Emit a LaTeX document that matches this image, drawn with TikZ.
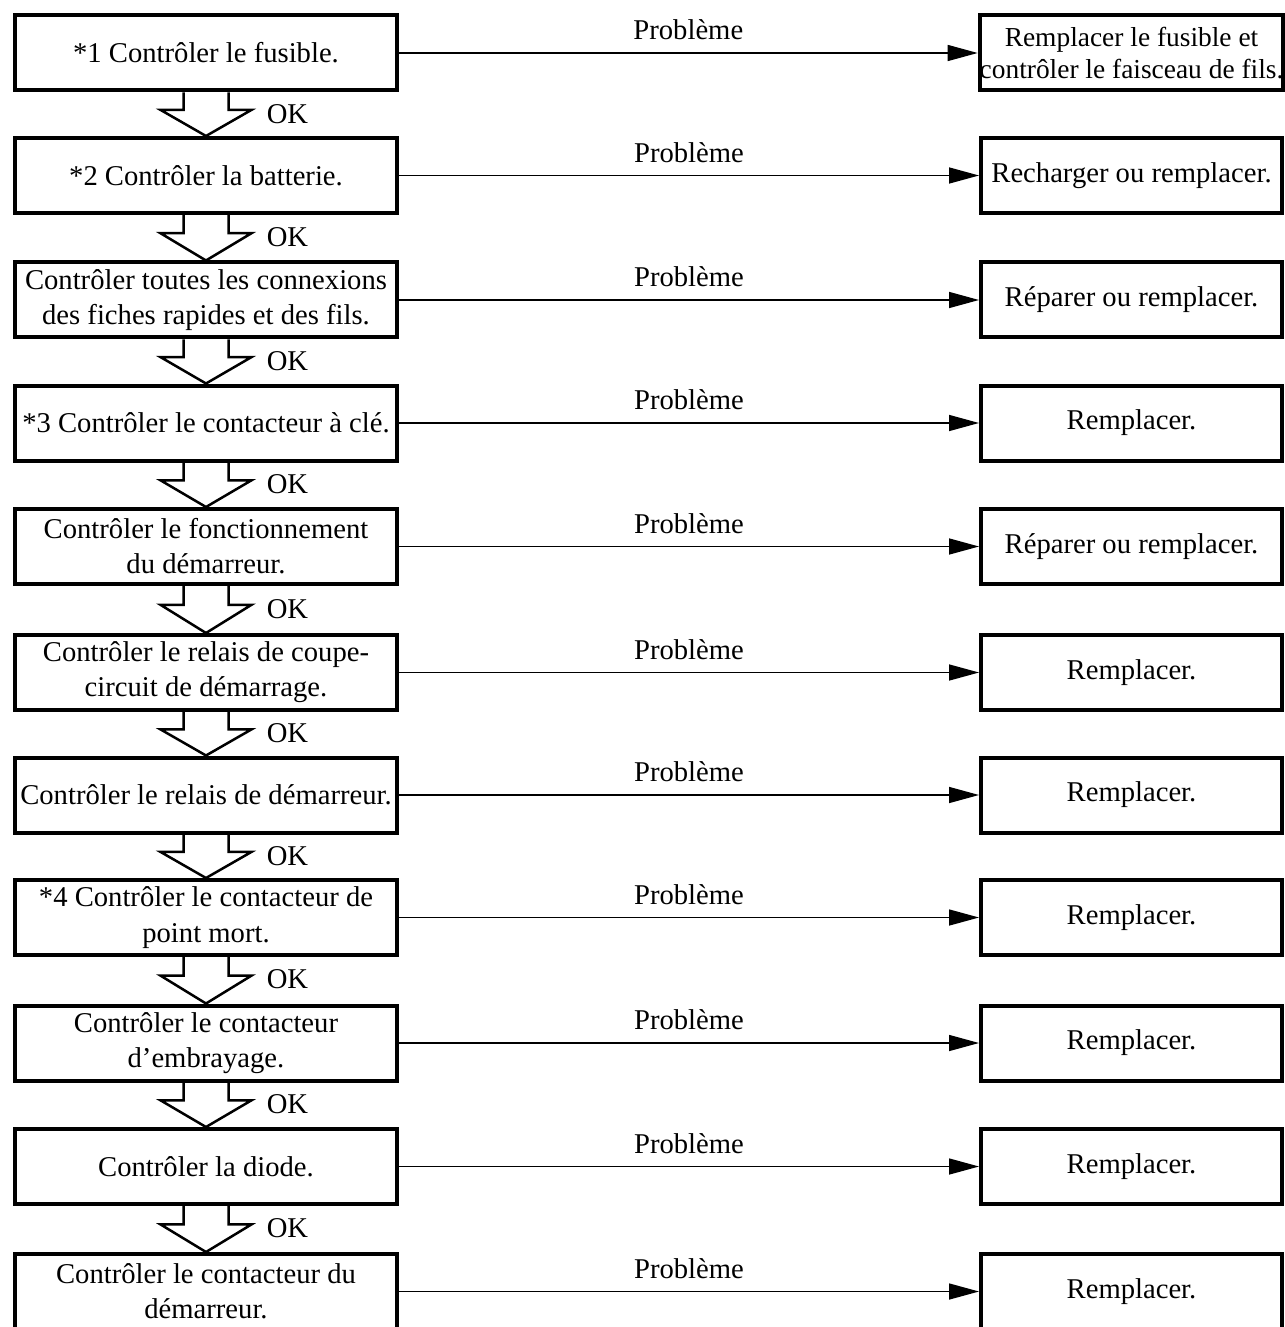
\documentclass[tikz,border=0pt]{standalone}
\usepackage{fontspec}
\setmainfont{Liberation Serif}
\usetikzlibrary{arrows.meta,positioning,calc}
\newcommand{\chartfont}{\fontsize{16.3}{20}\selectfont}

\begin{document}
\begin{tikzpicture}[
    testbox/.style={rectangle, draw, line width=0.08cm, minimum width=7.64cm,
                    minimum height=1.5cm, align=center, inner xsep=0.04cm, font=\chartfont},
    fixbox/.style={rectangle, draw, line width=0.08cm, minimum width=6.02cm,
                   minimum height=1.5cm, align=center, inner xsep=0pt, font=\chartfont},
    arr/.style={-{Triangle[length=0.6cm, width=0.32cm]}, line width=0.03cm},
    problabel/.style={above=0.24cm, inner sep=0pt, font=\chartfont},
    oklabel/.style={anchor=west, inner sep=0pt, xshift=0.28cm, yshift=-0.08cm, font=\chartfont},
    okarr/.style={draw, line width=0.05cm, to path={
        ($(\tikztostart.south)+(-0.45,0)$)
        -- ($(\tikztostart.south)!0.4!(\tikztotarget.north)+(-0.45,0)$)
        -- ($(\tikztostart.south)!0.4!(\tikztotarget.north)+(-0.91,0)$)
        -- (\tikztotarget.north)
        -- ($(\tikztostart.south)!0.4!(\tikztotarget.north)+(0.91,0)$)
        -- ($(\tikztostart.south)!0.4!(\tikztotarget.north)+(0.45,0)$)
        -- ($(\tikztostart.south)+(0.45,0)$)
        ($(\tikztostart.south)!0.4!(\tikztotarget.north)+(0.91,0)$) node[oklabel] {OK}}}
  ]
    \useasboundingbox (0,0) rectangle (25.68,-26.54);

    % checks (left column)
    \node[testbox] (c1)  at (4.12, -1.06) {*1 Contrôler le fusible.};
    \node[testbox] (c2)  at (4.12, -3.51) {*2 Contrôler la batterie.};
    \node[testbox] (c3)  at (4.12, -6.00) {Contrôler toutes les connexions\\des fiches rapides et des fils.};
    \node[testbox] (c4)  at (4.12, -8.46) {*3 Contrôler le contacteur à clé.};
    \node[testbox] (c5)  at (4.12,-10.93) {Contrôler le fonctionnement\\du démarreur.};
    \node[testbox] (c6)  at (4.12,-13.45) {Contrôler le relais de coupe-\\circuit de démarrage.};
    \node[testbox] (c7)  at (4.12,-15.90) {Contrôler le relais de démarreur.};
    \node[testbox] (c8)  at (4.12,-18.35) {*4 Contrôler le contacteur de\\point mort.};
    \node[testbox] (c9)  at (4.12,-20.86) {Contrôler le contacteur\\d’embrayage.};
    \node[testbox] (c10) at (4.12,-23.33) {Contrôler la diode.};
    \node[testbox] (c11) at (4.12,-25.83) {Contrôler le contacteur du\\démarreur.};

    % remedies (right column)
    \node[fixbox, font=\fontsize{15.6}{18.5}\selectfont] (r1) at (22.63,-1.06)
        {Remplacer le fusible et\\contrôler le faisceau de fils.};
    \node[fixbox] (r2)  at (22.63, -3.51) {Recharger ou remplacer.};
    \node[fixbox] (r3)  at (22.63, -6.00) {Réparer ou remplacer.};
    \node[fixbox] (r4)  at (22.63, -8.46) {Remplacer.};
    \node[fixbox] (r5)  at (22.63,-10.93) {Réparer ou remplacer.};
    \node[fixbox] (r6)  at (22.63,-13.45) {Remplacer.};
    \node[fixbox] (r7)  at (22.63,-15.90) {Remplacer.};
    \node[fixbox] (r8)  at (22.63,-18.35) {Remplacer.};
    \node[fixbox] (r9)  at (22.63,-20.86) {Remplacer.};
    \node[fixbox] (r10) at (22.63,-23.33) {Remplacer.};
    \node[fixbox] (r11) at (22.63,-25.83) {Remplacer.};

    % problem branches
    \draw[arr] (c1)  -- node[problabel] {Problème} (r1);
    \draw[arr] (c2)  -- node[problabel] {Problème} (r2);
    \draw[arr] (c3)  -- node[problabel] {Problème} (r3);
    \draw[arr] (c4)  -- node[problabel] {Problème} (r4);
    \draw[arr] (c5)  -- node[problabel] {Problème} (r5);
    \draw[arr] (c6)  -- node[problabel] {Problème} (r6);
    \draw[arr] (c7)  -- node[problabel] {Problème} (r7);
    \draw[arr] (c8)  -- node[problabel] {Problème} (r8);
    \draw[arr] (c9)  -- node[problabel] {Problème} (r9);
    \draw[arr] (c10) -- node[problabel] {Problème} (r10);
    \draw[arr] (c11) -- node[problabel] {Problème} (r11);

    % OK steps
    \draw[okarr] (c1)  to (c2);
    \draw[okarr] (c2)  to (c3);
    \draw[okarr] (c3)  to (c4);
    \draw[okarr] (c4)  to (c5);
    \draw[okarr] (c5)  to (c6);
    \draw[okarr] (c6)  to (c7);
    \draw[okarr] (c7)  to (c8);
    \draw[okarr] (c8)  to (c9);
    \draw[okarr] (c9)  to (c10);
    \draw[okarr] (c10) to (c11);
\end{tikzpicture}
\end{document}
